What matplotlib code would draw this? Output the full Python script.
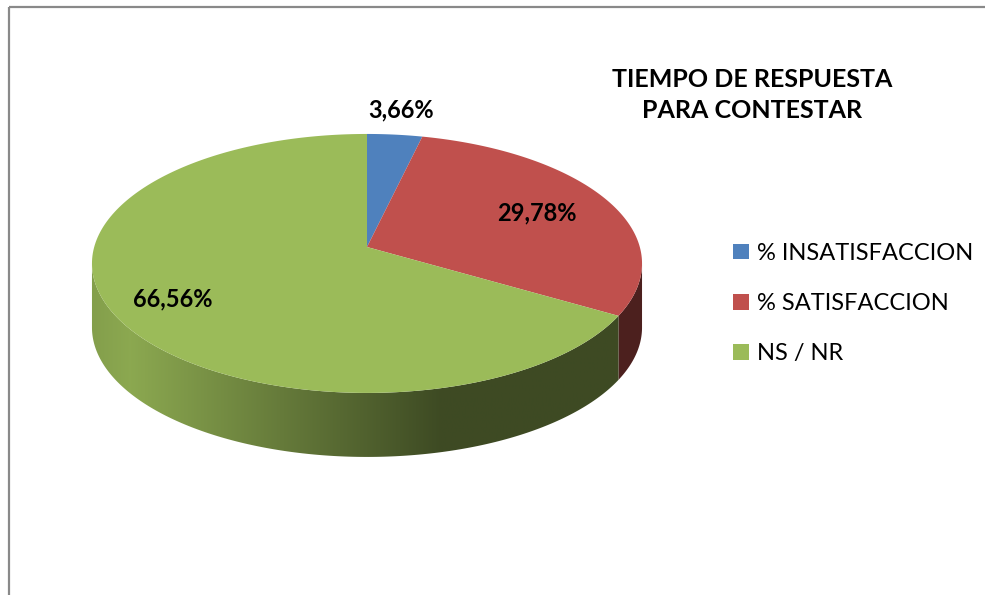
import numpy as np
import matplotlib
matplotlib.use("Agg")
import matplotlib.pyplot as plt
from matplotlib.patches import Polygon, Patch, Rectangle

categories = ["% INSATISFACCION", "% SATISFACCION", "NS / NR"]
values = [3.66, 29.78, 66.56]
value_labels = ["3,66%", "29,78%", "66,56%"]
colors = ["#4f81bd", "#c0504d", "#9bbb59"]
title = "TIEMPO DE RESPUESTA\nPARA CONTESTAR"

# pie geometry in pixels (apex, radii, perspective factor, wall height)
cx, cy = 367, 247
a, b = 272.8, 127.4
persp = 0.127
depth = 64
start_angle = 90
# label distance from the apex, as a fraction of the radius
label_r = [1.25, 0.70, 0.78]

plt.rcParams['font.family'] = ['Lato', 'DejaVu Sans']


def project(theta_deg, r=1.0, shift=0):
    t = np.radians(np.atleast_1d(theta_deg))
    s = 1.0 / (1.0 + persp * r * np.sin(t))
    return np.column_stack([cx + a * r * np.cos(t) * s, cy - b * r * np.sin(t) * s + shift])


def edge_points(t1, t2, n=200, shift=0):
    return project(np.linspace(t1, t2, n), shift=shift)


def shade(color, x):
    # side wall lighting: lighter on the left, dark toward the right
    f = np.interp(x, [92, 130, 440, 642], [0.85, 0.9, 0.4, 0.4])
    rgb = np.array(matplotlib.colors.to_rgb(color))
    return np.clip(f[:, None] * rgb[None, :], 0, 1)


def main():
    fig = plt.figure(figsize=(9.85, 5.95), dpi=100)
    ax = fig.add_axes([0, 0, 1, 1])
    ax.set_axis_off()

    fracs = np.array(values) / sum(values)
    bounds = start_angle - 360 * np.concatenate([[0], np.cumsum(fracs)])

    # side walls: front arc between the two silhouette points
    sil = np.degrees(np.arcsin(persp))
    xs = np.linspace(cx - a - 10, cx + a + 10, 400)
    for i in range(len(values)):
        hi, lo = bounds[i], bounds[i + 1]
        t1, t2 = max(lo, -180 + sil), min(hi, -sil)
        if t1 >= t2:
            continue
        top = edge_points(t1, t2)
        bottom = edge_points(t1, t2, shift=depth)[::-1]
        poly = Polygon(np.vstack([top, bottom]), closed=True, facecolor='none', edgecolor='none')
        ax.add_patch(poly)
        grad = shade(colors[i], xs)[None, :, :]
        im = ax.imshow(grad, extent=(xs[0], xs[-1], cy + 2 * b + depth, cy - 10),
                       aspect='auto', zorder=1)
        im.set_clip_path(poly)

    # top face
    for i in range(len(values)):
        hi, lo = bounds[i], bounds[i + 1]
        pts = np.vstack([[cx, cy], edge_points(hi, lo)])
        ax.add_patch(Polygon(pts, closed=True, facecolor=colors[i], edgecolor='none', zorder=2))

    # value labels
    for i in range(len(values)):
        mid = (bounds[i] + bounds[i + 1]) / 2
        x, y = project(mid, r=label_r[i])[0]
        ax.text(x, y, value_labels[i], ha='center', va='center', fontsize=17,
                fontweight='bold', color='black', zorder=3)

    ax.text(752, 95, title, ha='center', va='center', fontsize=18, fontweight='bold',
            linespacing=1.45, zorder=3)

    handles = [Patch(facecolor=c, edgecolor='none') for c in colors]
    ax.legend(handles, categories, loc='center left', bbox_to_anchor=(0.735, 0.49),
              frameon=False, fontsize=17, handlelength=0.65, handleheight=0.65,
              handletextpad=0.35, labelspacing=1.23, borderaxespad=0)

    ax.add_patch(Rectangle((9, 7), 1000, 1000, facecolor='none', edgecolor='#898989',
                           linewidth=1.6, zorder=0))

    ax.set_xlim(0, 985)
    ax.set_ylim(595, 0)
    fig.savefig("out.png", dpi=100)


if __name__ == "__main__":
    main()
